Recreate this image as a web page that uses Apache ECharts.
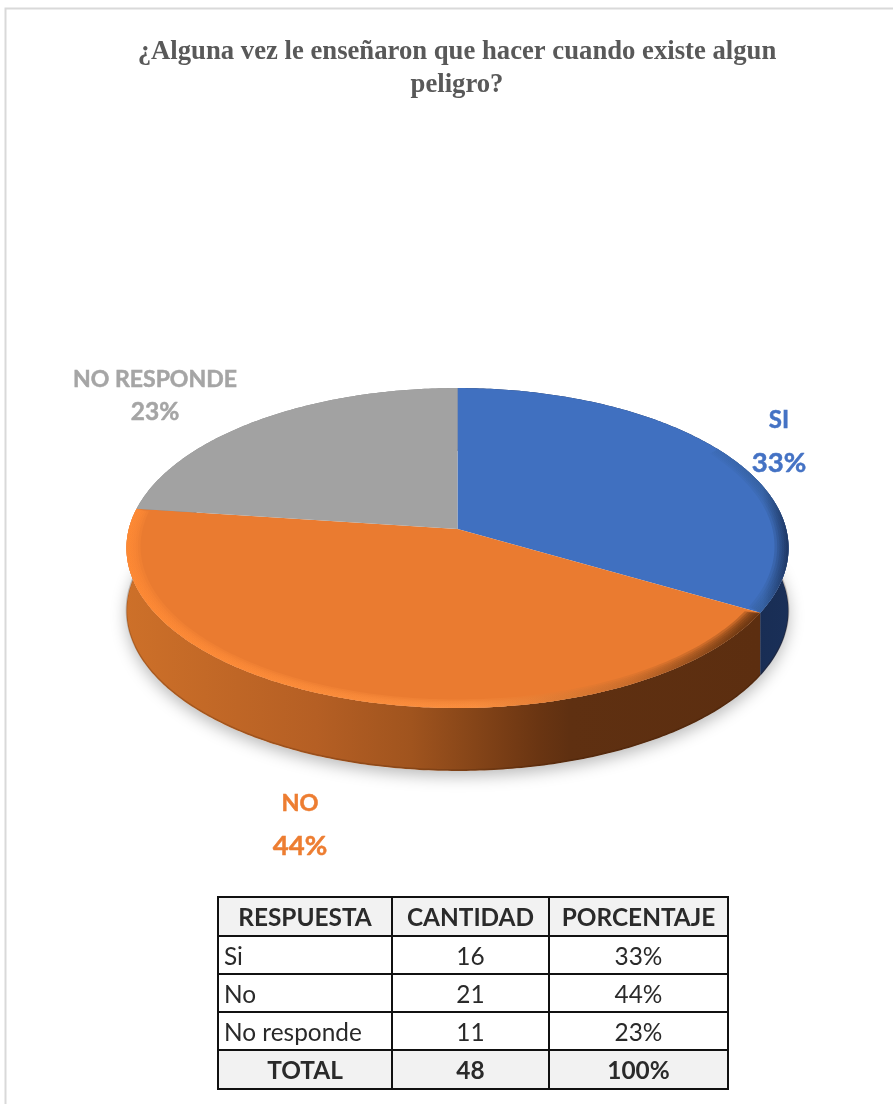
<!DOCTYPE html>
<html><head><meta charset="utf-8">
<style>html,body{margin:0;padding:0;background:#fff}#c{width:893px;height:1104px}</style>
<script src="https://cdn.jsdelivr.net/npm/echarts@6/dist/echarts.min.js"></script>
</head><body><div id="c"></div>
<script>
var titleLines = ['¿Alguna vez le enseñaron que hacer cuando existe algun', 'peligro?'];
var categories = ['SI', 'NO', 'NO RESPONDE'];
var values = [16, 21, 11];
var percents = ['33%', '44%', '23%'];
var tableHeader = ['RESPUESTA', 'CANTIDAD', 'PORCENTAJE'];
var tableNames = ['Si', 'No', 'No responde'];
var tableTotal = ['TOTAL', '48', '100%'];

var chart = echarts.init(document.getElementById('c'));
var total = values.reduce(function (a, b) { return a + b; }, 0);
var colors = ['#4070c0', '#ea7b30', '#a2a2a2'];
var labelColors = ['#4472c4', '#ed7d31', '#a5a5a5'];
var K = 0.11875, DEPTH = 63;
var starts = []; values.reduce(function (a, v, i) { starts[i] = a; return a + v; }, 0);

function proj(theta, r) {
  var u = r * Math.sin(theta), v = -r * Math.cos(theta), d = 1 - K * v;
  return [u / d, v / d];
}
function arc(api, from, to, r, dy) {
  var pts = [], n = Math.max(4, Math.ceil((to - from) * 80));
  for (var i = 0; i <= n; i++) {
    var p = api.coord(proj(from + (to - from) * i / n, r));
    pts.push([p[0], p[1] + (dy || 0)]);
  }
  return pts;
}
function angles(i) {
  var a = starts[i] / total * 2 * Math.PI;
  return [a, a + values[i] / total * 2 * Math.PI];
}
function hGrad(x0, x1, stops) {
  return { type: 'linear', x: x0, y: 0, x2: x1, y2: 0, global: true,
    colorStops: stops.map(function (s) { return { offset: s[0], color: s[1] }; }) };
}
var sideFill = [
  hGrad(740, 800, [[0, '#182c52'], [1, '#1a3059']]),
  hGrad(126, 760, [[0, '#cd7029'], [0.3, '#b55f24'], [0.45, '#a0541e'], [0.65, '#6a3512'], [0.7, '#5f3011'], [1, '#5c2e10']]),
  '#888'
];
var rimFill = [
  hGrad(126, 789, [[0.85, '#3f6fbe'], [0.96, '#35609f'], [1, '#1a3059']]),
  hGrad(126, 760, [[0, '#ff8a35'], [0.55, '#fb9040'], [0.8, '#c46a2a'], [0.97, '#63320f'], [1, '#5c2e10']]),
  '#a8a8a8'
];
function dataRows() { return values.map(function (v, i) { return [i, v]; }); }

function renderShadow(params, api) {
  if (params.dataIndex) return null;
  var pts = arc(api, 0, 2 * Math.PI, 1, DEPTH);
  return { type: 'polygon', shape: { points: pts }, silent: true,
    style: { fill: '#fff', shadowBlur: 16, shadowOffsetY: 5, shadowOffsetX: 0, shadowColor: 'rgba(0,0,0,0.28)' } };
}
function renderSide(params, api) {
  var i = api.value(0), a = angles(i);
  var from = a[0], to = Math.min(a[1], 2 * Math.PI);
  var top = arc(api, from, to, 1, 0), bottom = arc(api, from, to, 1, DEPTH);
  var edge = arc(api, from, to, 1, DEPTH - 1);
  return { type: 'group', children: [
    { type: 'polygon', shape: { points: top.concat(bottom.slice().reverse()) }, silent: true, style: { fill: sideFill[i] } },
    { type: 'polyline', shape: { points: edge }, silent: true, style: { fill: 'none', stroke: 'rgba(50,25,5,0.22)', lineWidth: 1.5 } }
  ] };
}
function renderTop(params, api) {
  var i = api.value(0), a = angles(i);
  var centre = api.coord([0, 0]);
  return { type: 'polygon', shape: { points: [centre].concat(arc(api, a[0], a[1], 1, 0)) }, silent: true, style: { fill: colors[i] } };
}
function renderRim(params, api) {
  var i = api.value(0), a = angles(i);
  if (i === 2) return null;
  var kids = [], from = a[0], to = a[1];
  if (i === 0) from = a[0] + 1.0;
  // stacked translucent bands give the soft bevel round the disc edge
  var widths = [0.042, 0.034, 0.027, 0.02, 0.013, 0.007];
  widths.forEach(function (w) {
    var outer = arc(api, from, to, 1, 0), inner = arc(api, from + 0.014, to - 0.014, 1 - w, 0).reverse();
    kids.push({ type: 'polygon', shape: { points: outer.concat(inner) }, silent: true,
      style: { fill: rimFill[i], opacity: 0.3 } });
  });
  return { type: 'group', children: kids };
}
var labelPos = [[779, 420, 463, 24, 27.5], [300, 803, 846, 23.5, 27.5], [155, 380, 412, 23, 24.5]];
function renderLabel(params, api) {
  var i = api.value(0), p = labelPos[i];
  function t(text, y, size) {
    return { type: 'text', silent: true, style: { text: text, x: p[0], y: y, align: 'center', verticalAlign: 'middle',
      fill: labelColors[i], stroke: labelColors[i], lineWidth: 0.5, font: 'bold ' + size + 'px Lato, "Open Sans", sans-serif' } };
  }
  return { type: 'group', children: [t(categories[i], p[1], p[3]), t(percents[i], p[2], p[4])] };
}

// table
var colX = [218, 392, 549, 728], rowY = [897, 936, 974, 1012, 1050, 1089];
var tableRows = [tableHeader].concat(tableNames.map(function (n, i) { return [n, String(values[i]), percents[i]]; }), [tableTotal]);
var g = [];
g.push({ type: 'rect', silent: true, z: 0, shape: { x: 5.5, y: 8.5, width: 900, height: 1110 }, style: { fill: '#fff', stroke: '#d9d9d9', lineWidth: 2 } });
titleLines.forEach(function (s, i) {
  g.push({ type: 'text', silent: true, z: 5, style: { text: s, x: 457, y: 52 + i * 33, align: 'center', verticalAlign: 'middle', fill: '#595959', font: 'bold 26.7px "Liberation Serif", serif' } });
});
[0, 4].forEach(function (r) {
  g.push({ type: 'rect', silent: true, z: 5, shape: { x: colX[0], y: rowY[r], width: colX[3] - colX[0], height: rowY[r + 1] - rowY[r] }, style: { fill: '#f2f2f2' } });
});
rowY.forEach(function (y) {
  g.push({ type: 'line', silent: true, z: 6, shape: { x1: colX[0] - 1, y1: y, x2: colX[3] + 1, y2: y }, style: { stroke: '#111', lineWidth: 2 } });
});
colX.forEach(function (x) {
  g.push({ type: 'line', silent: true, z: 6, shape: { x1: x, y1: rowY[0], x2: x, y2: rowY[5] }, style: { stroke: '#111', lineWidth: 2 } });
});
tableRows.forEach(function (row, r) {
  var bold = r === 0 || r === 4;
  row.forEach(function (s, c) {
    var left = c === 0 && !bold;
    g.push({ type: 'text', silent: true, z: 7, style: { text: s, x: left ? colX[0] + 6 : (colX[c] + colX[c + 1]) / 2, y: (rowY[r] + rowY[r + 1]) / 2 + 2,
      align: left ? 'left' : 'center', verticalAlign: 'middle', fill: '#2a2a2a', font: (bold ? 'bold ' : '') + '24.4px Lato, "Open Sans", sans-serif' } });
  });
});

var A = 328.7, B = 157.7;
chart.setOption({
  animation: false,
  backgroundColor: '#fff',
  graphic: g,
  grid: { left: 457.5 - A, width: 2 * A, top: 529 - B, height: 2 * B },
  xAxis: { type: 'value', min: -1, max: 1, show: false },
  yAxis: { type: 'value', min: -1, max: 1, inverse: true, show: false },
  series: [
    { type: 'custom', z: 1, renderItem: renderShadow, data: dataRows(), clip: false },
    { type: 'custom', z: 2, renderItem: renderSide, data: dataRows(), clip: false },
    { type: 'custom', z: 3, renderItem: renderTop, data: dataRows(), clip: false },
    { type: 'custom', z: 4, renderItem: renderRim, data: dataRows(), clip: false },
    { type: 'custom', z: 5, renderItem: renderLabel, data: dataRows(), clip: false }
  ]
});
</script></body></html>
